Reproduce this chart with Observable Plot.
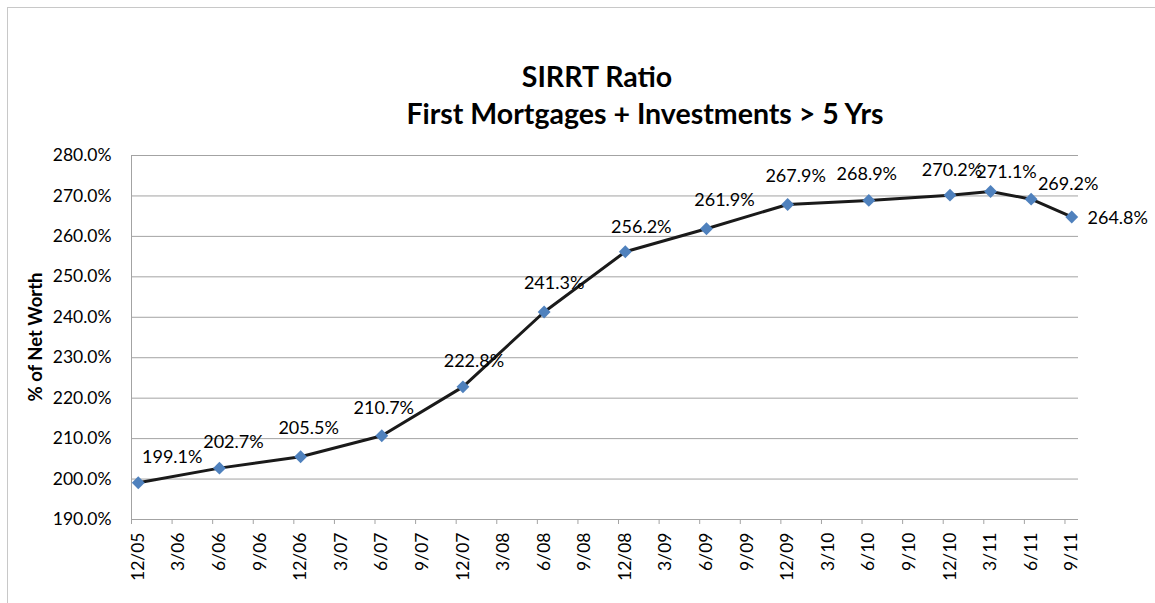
<!DOCTYPE html>
<html>
<head>
<meta charset="utf-8">
<script src="https://cdn.jsdelivr.net/npm/d3@7"></script>
<script src="https://cdn.jsdelivr.net/npm/@observablehq/plot@0.6"></script>
<style>
  html, body { margin: 0; padding: 0; background: #fff; }
  #wrap { position: relative; width: 1155px; height: 603px; overflow: hidden; background: #fff; font-family: Lato, "Open Sans", sans-serif; }
  #frame { position: absolute; left: 7px; top: 7px; width: 1200px; height: 700px; border: 1px solid #c8c8c8; box-sizing: border-box; }
  .tline { position: absolute; width: 800px; text-align: center; font-weight: bold; font-size: 28.5px; line-height: 37px; color: #000; white-space: nowrap; }
  #t1 { left: 197px; top: 58px; }
  #t2 { left: 245px; top: 95px; }
  #ytitle { position: absolute; left: 35px; top: 337px; width: 0; height: 0; }
  #ytitle span { position: absolute; left: 0; top: 0; transform: translate(-50%, -50%) rotate(-90deg); white-space: nowrap; font-weight: bold; font-size: 18.5px; line-height: 20px; color: #000; }
  #chart { position: absolute; left: 0; top: 140px; }
</style>
</head>
<body>
<div id="wrap">
  <div id="frame"></div>
  <div id="t1" class="tline">SIRRT Ratio</div>
  <div id="t2" class="tline">First Mortgages + Investments &gt; 5 Yrs</div>
  <div id="chart"></div>
  <div id="ytitle"><span id="ytitleText"></span></div>
</div>
<script>
// ---- data ----
const periods = ["12/05","6/06","12/06","6/07","12/07","6/08","12/08","6/09","12/09","6/10","12/10","3/11","6/11","9/11"];
const ratios  = [199.1, 202.7, 205.5, 210.7, 222.8, 241.3, 256.2, 261.9, 267.9, 268.9, 270.2, 271.1, 269.2, 264.8];
const tickLabels = ["12/05","3/06","6/06","9/06","12/06","3/07","6/07","9/07","12/07","3/08","6/08","9/08","12/08",
                    "3/09","6/09","9/09","12/09","3/10","6/10","9/10","12/10","3/11","6/11","9/11"];
const yTicks = [190, 200, 210, 220, 230, 240, 250, 260, 270, 280];
const yTitle = "% of Net Worth";

document.getElementById("ytitleText").textContent = yTitle;

// month index counted from Dec 2005 (date axis with monthly base unit)
const monthIndex = s => { const [m, y] = s.split("/").map(Number); return (2000 + y - 2005) * 12 + m - 12; };

const data = periods.map((p, i) => ({period: p, value: ratios[i], m: monthIndex(p) + 0.5}));
const tickPos = tickLabels.map(monthIndex);
const labelPos = tickLabels.map(t => monthIndex(t) + 0.5);
const labelText = new Map(labelPos.map((v, i) => [v, tickLabels[i]]));

// per-label placement of the data labels (dx, dy in px), as in the reference
const labelOffsets = [[34,-25],[14,-26],[8,-29],[2,-28],[11,-26],[10,-29],[16,-25],[18,-28],[8,-28],[-2,-26],[2,-25],[16,-19],[37,-15],[46,1]];

const grid = "#a3a3a3";
const font = "Lato, 'Open Sans', sans-serif";

const chart = Plot.plot({
  width: 1155,
  height: 463,
  marginLeft: 131,
  marginRight: 77,
  marginTop: 15,
  marginBottom: 84,
  style: {fontFamily: font, background: "transparent", color: "#000"},
  x: {type: "linear", domain: [0, 70], label: null},
  y: {type: "linear", domain: [190, 280], label: null},
  marks: [
    Plot.gridY(yTicks, {stroke: grid, strokeOpacity: 1, strokeWidth: 1}),
    Plot.ruleY([190], {stroke: grid, strokeWidth: 1}),
    Plot.ruleX([0], {stroke: grid, strokeWidth: 1}),
    Plot.axisY({ticks: yTicks, tickSize: 0, tickPadding: 20, tickFormat: d => d.toFixed(1) + "%", fontSize: 17.5, label: null}),
    Plot.axisX({ticks: tickPos, tickSize: 5, stroke: grid, tickFormat: () => "", label: null}),
    Plot.axisX({ticks: labelPos, tickSize: 0, tickPadding: 13, tickRotate: -90, tickFormat: d => labelText.get(d), fontSize: 17.5, label: null}),
    Plot.line(data, {x: "m", y: "value", stroke: "#1a1a1a", strokeWidth: 3, curve: "linear"}),
    Plot.dot(data, {x: "m", y: "value", symbol: "diamond2", r: 5.8, fill: "#4f81bd", stroke: "none"}),
    ...data.map((d, i) => Plot.text([d], {
      x: "m", y: "value", text: v => v.value.toFixed(1) + "%",
      dx: labelOffsets[i][0], dy: labelOffsets[i][1], fontSize: 18, fill: "#000"
    }))
  ]
});
document.getElementById("chart").appendChild(chart);
</script>
</body>
</html>
